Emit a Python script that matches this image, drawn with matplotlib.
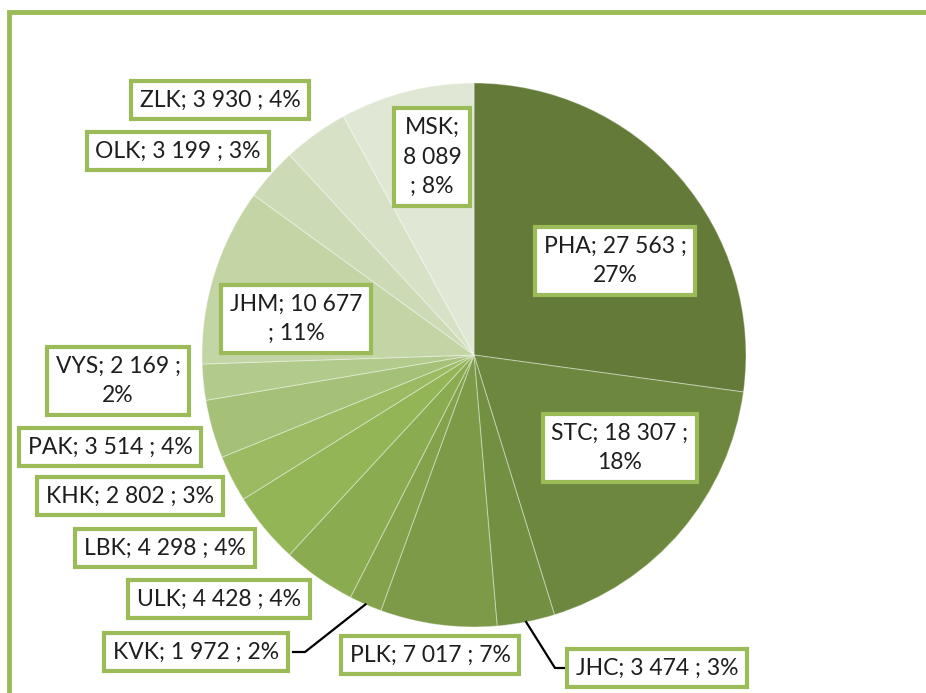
import matplotlib.pyplot as plt
from matplotlib.patches import Rectangle
import numpy as np

plt.rcParams['font.family'] = ['Lato', 'DejaVu Sans']

regions = ['PHA', 'STC', 'JHC', 'PLK', 'KVK', 'ULK', 'LBK', 'KHK',
           'PAK', 'VYS', 'JHM', 'OLK', 'ZLK', 'MSK']
counts = [27563, 18307, 3474, 7017, 1972, 4428, 4298, 2802,
          3514, 2169, 10677, 3199, 3930, 8089]
# percentages as printed on the chart
shares = [27, 18, 3, 7, 2, 4, 4, 3, 4, 2, 11, 3, 4, 8]
colors = ['#647a38', '#6d883e', '#738f42', '#7c9a47', '#83a24b', '#8aab4f',
          '#93b556', '#9bba62', '#a5c077', '#b2ca8c', '#c3d4a5', '#ccdab6',
          '#d6e1c5', '#e0e8d5']
# how each label wraps: 0 = one line, 1 = break before pct, 2 = break after name and value,
# 3 = break before "; pct"
wrap = [1, 1, 0, 0, 0, 0, 0, 0, 0, 1, 3, 0, 0, 2]
# label box centres in pixels (x, y from top)
label_pos = [(615, 261), (620, 448), (657, 668), (430, 655), (196, 652), (219, 599),
             (165, 548), (130, 496), (110, 447), (118, 381), (296, 319), (178, 151),
             (220, 100), (432, 157)]

W, H = 926, 693
fig = plt.figure(figsize=(W / 100, H / 100), dpi=100)
ax = fig.add_axes([0, 0, 1, 1])

# frame (runs off the right and bottom edges)
ax.add_patch(Rectangle((9, -20), W + 40, H - 12 + 20, fill=False,
                       edgecolor='#9bbb59', linewidth=3.5))

cx, cy, r = 474, H - 355, 272
wedges, _ = ax.pie(counts, colors=colors, startangle=90, counterclock=False,
                   center=(cx, cy), radius=r, frame=True,
                   wedgeprops=dict(edgecolor=(1, 1, 1, 0.35), linewidth=0.8))
ax.set_xlim(0, W)
ax.set_ylim(0, H)
ax.set_aspect('equal')
ax.axis('off')


def fmt(v):
    return f'{v:,}'.replace(',', ' ')


for i, (name, v) in enumerate(zip(regions, counts)):
    pct = f'{shares[i]}%'
    if wrap[i] == 0:
        txt = f'{name}; {fmt(v)} ; {pct}'
    elif wrap[i] == 1:
        txt = f'{name}; {fmt(v)} ;\n{pct}'
    elif wrap[i] == 2:
        txt = f'{name};\n{fmt(v)}\n; {pct}'
    else:
        txt = f'{name}; {fmt(v)}\n; {pct}'
    x, y = label_pos[i]
    ax.text(x, H - y, txt, ha='center', va='center', fontsize=16.5, color='#1e1e1e',
            linespacing=1.5, zorder=5,
            bbox=dict(boxstyle='square,pad=0.38', facecolor='white',
                      edgecolor='#9bbb59', linewidth=3))

# leader lines for KVK and JHC
for i, (bx, by) in [(4, (293, 652)), (2, (565, 668))]:
    w = wedges[i]
    mid = np.deg2rad((w.theta1 + w.theta2) / 2)
    px, py = cx + r * np.cos(mid), cy + r * np.sin(mid)
    step = 12 if bx < cx else -10
    ax.plot([px, bx + step, bx], [py, H - by, H - by], color='black', lw=1.6, zorder=4)

fig.savefig('out.png', dpi=100)
